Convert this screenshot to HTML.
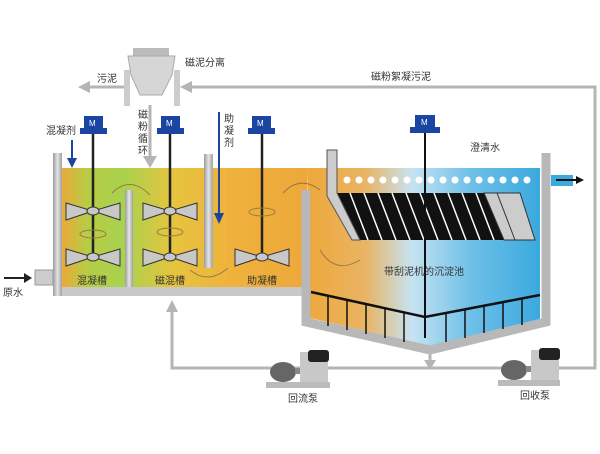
<!DOCTYPE html>
<html><head><meta charset="utf-8"><style>body{margin:0;background:#fff}svg{display:block}text{font-family:"Liberation Sans","Noto Sans CJK SC",sans-serif;font-size:10px;fill:#333}</style></head><body>
<svg width="600" height="454" viewBox="0 0 600 454">
<defs>
<linearGradient id="lq" x1="0" x2="1" y1="0" y2="0">
<stop offset="0" stop-color="#e9a93a"/><stop offset="0.1" stop-color="#b8cc45"/><stop offset="0.25" stop-color="#a8d24e"/><stop offset="0.45" stop-color="#e6c43f"/><stop offset="0.7" stop-color="#efb13c"/><stop offset="1" stop-color="#eea83a"/></linearGradient>
<linearGradient id="wt" x1="0" x2="1" y1="0" y2="0">
<stop offset="0" stop-color="#eea83a"/><stop offset="0.25" stop-color="#e9b464"/><stop offset="0.45" stop-color="#c6e3f2"/><stop offset="0.7" stop-color="#6fc0e8"/><stop offset="1" stop-color="#3aa9de"/></linearGradient>
<linearGradient id="gw" x1="0" x2="1"><stop offset="0" stop-color="#9a9a9a"/><stop offset="0.5" stop-color="#e4e4e4"/><stop offset="1" stop-color="#a0a0a0"/></linearGradient>
</defs>
<!-- grey loop pipes -->
<g stroke="#b5b5b5" stroke-width="3" fill="none">
<polyline points="190,87 595,87 595,368 172,368 172,308"/>
<line x1="125" y1="87" x2="88" y2="87"/>
<line x1="150" y1="105" x2="150" y2="160"/>
<line x1="430" y1="345" x2="430" y2="362"/>
</g>
<g fill="#b5b5b5">
<polygon points="180,87 192,81 192,93"/>
<polygon points="78,87 90,81 90,93"/>
<polygon points="150,168 143,156 157,156"/>
<polygon points="172,300 166,312 178,312"/>
<polygon points="430,370 424,360 436,360"/>
</g>
<text x="371" y="80">磁粉絮凝污泥</text>
<text x="97" y="82">污泥</text>
<text x="185" y="66">磁泥分离</text>
<!-- separator -->
<rect x="133" y="48" width="36" height="8" fill="#bbb"/>
<polygon points="128,56 175,56 172,75 162,95 140,95 131,75" fill="#d6d6d6" stroke="#aaa"/>
<rect x="124" y="70" width="6" height="36" fill="#ccc"/><rect x="174" y="70" width="6" height="36" fill="#ccc"/>
<text x="138" y="118">磁</text><text x="138" y="130">粉</text><text x="138" y="142">循</text><text x="138" y="154">环</text>
<!-- liquid -->
<rect x="62" y="168" width="245" height="120" fill="url(#lq)"/>
<polygon points="307,168 540,168 540,322 430,346 310,318" fill="url(#wt)"/>
<!-- walls -->
<rect x="53" y="153" width="9" height="143" fill="url(#gw)"/>
<rect x="62" y="287" width="245" height="9" fill="#c8c8c8"/>
<rect x="125" y="190" width="8" height="97" fill="url(#gw)"/>
<rect x="204" y="154" width="9" height="114" fill="url(#gw)"/>
<rect x="35" y="270" width="18" height="15" fill="#ccc" stroke="#999"/>
<line x1="4" y1="278" x2="26" y2="278" stroke="#222" stroke-width="2"/><polygon points="32,278 24,273 24,283" fill="#222"/>
<text x="3" y="296">原水</text>
<polyline points="306,190 306,322 430,350 546,322 546,153" fill="none" stroke="#b8b8b8" stroke-width="9"/>
<!-- plates -->
<polygon points="337,193 520,193 535,240 357,240" fill="#111"/>
<g stroke="#fff" stroke-width="1.5">
<line x1="350" y1="193" x2="368" y2="240"/><line x1="364" y1="193" x2="382" y2="240"/><line x1="378" y1="193" x2="396" y2="240"/><line x1="392" y1="193" x2="410" y2="240"/><line x1="406" y1="193" x2="424" y2="240"/><line x1="420" y1="193" x2="438" y2="240"/><line x1="434" y1="193" x2="452" y2="240"/><line x1="448" y1="193" x2="466" y2="240"/><line x1="462" y1="193" x2="480" y2="240"/><line x1="476" y1="193" x2="494" y2="240"/><line x1="490" y1="193" x2="508" y2="240"/></g>
<polygon points="484,193 520,193 535,240 504,240" fill="#ccc" stroke="#333"/>
<line x1="497" y1="193" x2="515" y2="240" stroke="#333"/>
<polygon points="327,150 337,150 337,193 360,240 352,240 327,196" fill="#ccc" stroke="#555"/>
<g fill="#fff">
<circle cx="347" cy="180" r="3.5"/><circle cx="359" cy="180" r="3.5"/><circle cx="371" cy="180" r="3.5"/><circle cx="383" cy="180" r="3.5"/><circle cx="395" cy="180" r="3.5"/><circle cx="407" cy="180" r="3.5"/><circle cx="419" cy="180" r="3.5"/><circle cx="431" cy="180" r="3.5"/><circle cx="443" cy="180" r="3.5"/><circle cx="455" cy="180" r="3.5"/><circle cx="467" cy="180" r="3.5"/><circle cx="479" cy="180" r="3.5"/><circle cx="491" cy="180" r="3.5"/><circle cx="503" cy="180" r="3.5"/><circle cx="515" cy="180" r="3.5"/><circle cx="527" cy="180" r="3.5"/></g>
<rect x="551" y="175" width="22" height="11" fill="#3aa9de"/>
<line x1="556" y1="180" x2="578" y2="180" stroke="#111" stroke-width="2"/><polygon points="584,180 576,176 576,184" fill="#111"/>
<text x="470" y="151">澄清水</text>
<text x="384" y="275">带刮泥机的沉淀池</text>
<!-- scraper -->
<polyline points="311,292 425,317 540,295" fill="none" stroke="#111" stroke-width="2.5"/>
<g stroke="#111" stroke-width="1.5">
<line x1="328" y1="296" x2="328" y2="326"/><line x1="347" y1="300" x2="347" y2="330"/><line x1="366" y1="304" x2="366" y2="334"/><line x1="385" y1="308" x2="385" y2="338"/><line x1="404" y1="312" x2="404" y2="342"/><line x1="446" y1="313" x2="446" y2="342"/><line x1="465" y1="309" x2="465" y2="338"/><line x1="484" y1="305" x2="484" y2="333"/><line x1="503" y1="302" x2="503" y2="329"/><line x1="522" y1="298" x2="522" y2="325"/></g>
<line x1="425" y1="130" x2="425" y2="338" stroke="#111" stroke-width="2"/>
<!-- motors & shafts -->
<g stroke="#222" stroke-width="2.5"><line x1="93" y1="133" x2="93" y2="258"/><line x1="170" y1="133" x2="170" y2="258"/><line x1="262" y1="133" x2="262" y2="258"/></g>
<g fill="#1a45a0">
<rect x="84" y="116" width="19" height="13"/><rect x="80" y="128" width="27" height="6"/>
<rect x="161" y="116" width="19" height="13"/><rect x="157" y="128" width="27" height="6"/>
<rect x="252" y="116" width="19" height="13"/><rect x="248" y="128" width="27" height="6"/>
<rect x="415" y="115" width="20" height="13"/><rect x="410" y="127" width="30" height="6"/></g>
<g fill="#fff" font-size="8" style="font-family:'Liberation Serif',serif"><text x="89" y="126" style="fill:#fff;font-size:8px">M</text><text x="166" y="126" style="fill:#fff;font-size:8px">M</text><text x="257" y="126" style="fill:#fff;font-size:8px">M</text><text x="421" y="125" style="fill:#fff;font-size:8px">M</text></g>
<!-- impellers -->
<g fill="#c8c8c8" stroke="#333">
<polygon points="66,203 93,211 66,220"/><polygon points="120,203 93,211 120,220"/>
<polygon points="66,249 93,257 66,266"/><polygon points="120,249 93,257 120,266"/>
<polygon points="143,203 170,211 143,220"/><polygon points="197,203 170,211 197,220"/>
<polygon points="143,249 170,257 143,266"/><polygon points="197,249 170,257 197,266"/>
<polygon points="235,249 262,257 235,266"/><polygon points="289,249 262,257 289,266"/>
<ellipse cx="93" cy="211" rx="6" ry="4"/><ellipse cx="93" cy="257" rx="6" ry="4"/><ellipse cx="170" cy="211" rx="6" ry="4"/><ellipse cx="170" cy="257" rx="6" ry="4"/><ellipse cx="262" cy="257" rx="6" ry="4"/></g>
<g fill="none" stroke="#9a7a40" stroke-width="1">
<ellipse cx="93" cy="234" rx="13" ry="4"/><ellipse cx="170" cy="232" rx="13" ry="4"/><ellipse cx="262" cy="212" rx="13" ry="4"/>
<path d="M112,193 Q130,175 150,195"/><path d="M190,270 Q208,285 228,268"/><path d="M283,193 Q300,175 320,190"/><path d="M320,250 Q335,275 360,260"/></g>
<!-- chemical arrows -->
<line x1="72" y1="140" x2="72" y2="160" stroke="#1a45a0" stroke-width="2"/><polygon points="72,168 67,158 77,158" fill="#1a45a0"/>
<text x="46" y="134">混凝剂</text>
<line x1="219" y1="112" x2="219" y2="215" stroke="#1a45a0" stroke-width="2"/><polygon points="219,224 214,213 224,213" fill="#1a45a0"/>
<text x="224" y="122">助</text><text x="224" y="134">凝</text><text x="224" y="146">剂</text>
<text x="77" y="284">混凝槽</text><text x="155" y="284">磁混槽</text><text x="247" y="284">助凝槽</text>
<!-- pumps -->
<g>
<rect x="266" y="382" width="64" height="6" fill="#bbb"/>
<ellipse cx="283" cy="372" rx="13" ry="10" fill="#666"/><rect x="295" y="368" width="10" height="6" fill="#888"/>
<rect x="300" y="352" width="28" height="30" fill="#c8c8c8"/><rect x="308" y="350" width="21" height="12" rx="3" fill="#222"/>
<rect x="498" y="380" width="62" height="6" fill="#bbb"/>
<ellipse cx="514" cy="370" rx="13" ry="10" fill="#666"/><rect x="526" y="366" width="10" height="6" fill="#888"/>
<rect x="531" y="350" width="28" height="30" fill="#c8c8c8"/><rect x="539" y="348" width="21" height="12" rx="3" fill="#222"/>
</g>
<text x="288" y="402">回流泵</text><text x="520" y="399">回收泵</text>
</svg>
</body></html>
